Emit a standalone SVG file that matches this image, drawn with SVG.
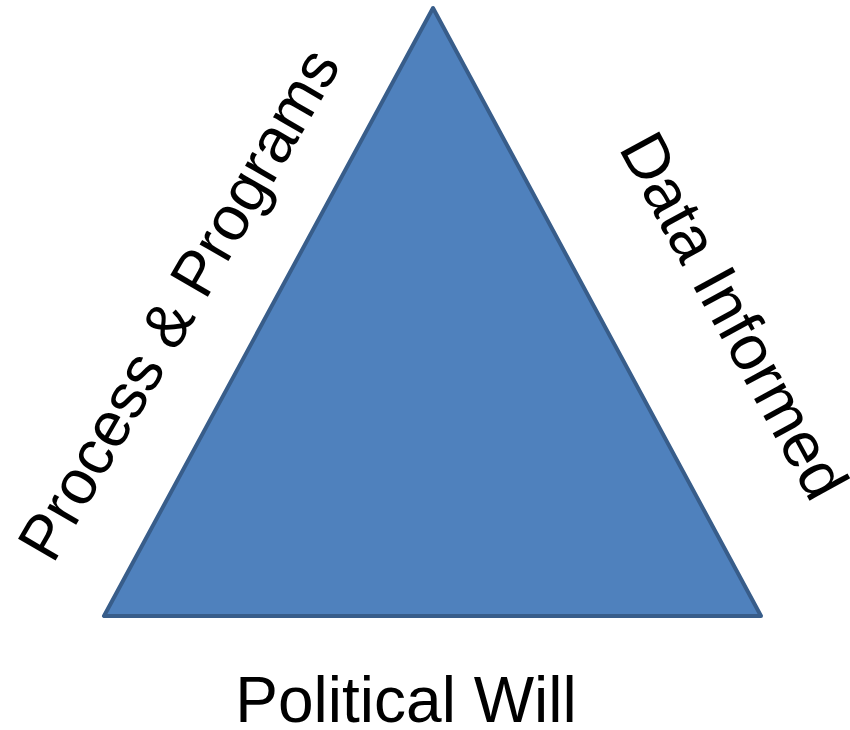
<svg xmlns="http://www.w3.org/2000/svg" width="850" height="730" viewBox="0 0 850 730">
<style>
.lbl{font-family:"Liberation Sans",Arial,sans-serif;font-size:64px;fill:#000}
</style>
<rect width="850" height="730" fill="#fff"/>
<g id="triangle">
<polygon points="433,8 104,616 761,616" fill="#4F81BD" stroke="#385D8A" stroke-width="4" stroke-linejoin="round"/>
</g>
<g id="label-left">
<text class="lbl" style="font-size:63px" transform="translate(53,565) rotate(-60)">Process &amp; Programs</text>
</g>
<g id="label-right">
<text class="lbl" transform="translate(618,148) rotate(61.5)">Data Informed</text>
</g>
<g id="label-bottom">
<text class="lbl" x="406" y="722" text-anchor="middle">Political Will</text>
</g>
</svg>
